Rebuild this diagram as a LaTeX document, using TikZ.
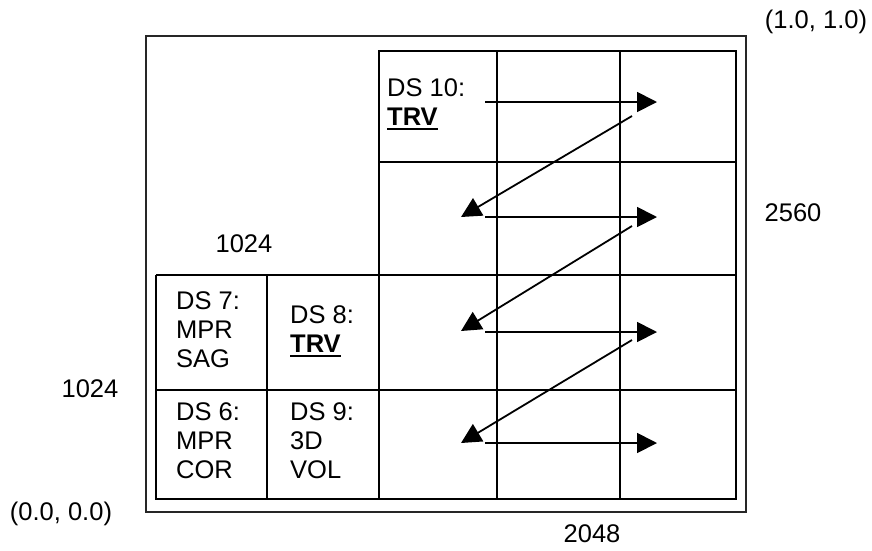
\documentclass[tikz,border=0pt]{standalone}
\usepackage{fontspec}
\setmainfont{Liberation Sans}
\usetikzlibrary{arrows.meta}
\newsavebox\ulbox
\newcommand\ulbold[1]{\sbox\ulbox{\textbf{#1}}\rlap{\usebox\ulbox}\rule[-5pt]{\wd\ulbox}{2pt}}
\begin{document}
\begin{tikzpicture}[x=1pt,y=-1pt,
  lbl/.style={inner sep=0pt, font=\fontsize{25.5}{29}\selectfont},
  cell/.style={lbl, anchor=base west, align=left},
  num/.style={lbl, anchor=base},
  frame/.style={line width=2pt, draw=black!85},
  gridl/.style={line width=2pt},
  arr/.style={line width=1.8pt, -{Triangle[length=20pt,width=20pt]}}
]
\useasboundingbox (0,0) rectangle (872,550);
% outer frame
\draw[frame] (145.5,35.5) rectangle (745.5,511.5);
% inner grid
\draw[gridl] (379,51) rectangle (736,499);
\draw[gridl] (379,162) -- (736,162);
\draw[gridl] (156,275) -- (736,275);
\draw[gridl] (156,390) -- (736,390);
\draw[gridl] (497,51) -- (497,499);
\draw[gridl] (620,51) -- (620,499);
\draw[gridl] (156,275) -- (156,499) -- (379,499);
\draw[gridl] (267,275) -- (267,499);
% cell texts (anchored at the baseline of their last line)
\node[cell] (ds10) at (387,125) {DS 10:\\\ulbold{TRV}};
\node[cell] (ds7) at (176,367) {DS 7:\\MPR\\SAG};
\node[cell] (ds8) at (290,352) {DS 8:\\\ulbold{TRV}};
\node[cell] (ds6) at (176,478) {DS 6:\\MPR\\COR};
\node[cell] (ds9) at (290,478) {DS 9:\\3D\\VOL};
% dimension labels
\node[num] (tr) at (816,28) {(1.0, 1.0)};
\node[num] (h2560) at (793,221) {2560};
\node[num] (w1024) at (244,252) {1024};
\node[num] (h1024) at (90,397) {1024};
\node[num] (orig) at (61,520) {(0.0, 0.0)};
\node[num] (w2048) at (592,542) {2048};
% arrow end points
\coordinate (a1s) at (485,102); \coordinate (a1e) at (657,102);
\coordinate (d1s) at (632,116); \coordinate (d1e) at (461,217);
\coordinate (a2s) at (485,217); \coordinate (a2e) at (657,217);
\coordinate (d2s) at (632,226); \coordinate (d2e) at (461,331);
\coordinate (a3s) at (485,332); \coordinate (a3e) at (657,332);
\coordinate (d3s) at (632,340); \coordinate (d3e) at (461,443);
\coordinate (a4s) at (485,443); \coordinate (a4e) at (657,443);
\draw[arr] (a1s) -- (a1e);
\draw[arr] (d1s) -- (d1e);
\draw[arr] (a2s) -- (a2e);
\draw[arr] (d2s) -- (d2e);
\draw[arr] (a3s) -- (a3e);
\draw[arr] (d3s) -- (d3e);
\draw[arr] (a4s) -- (a4e);
\end{tikzpicture}
\end{document}
